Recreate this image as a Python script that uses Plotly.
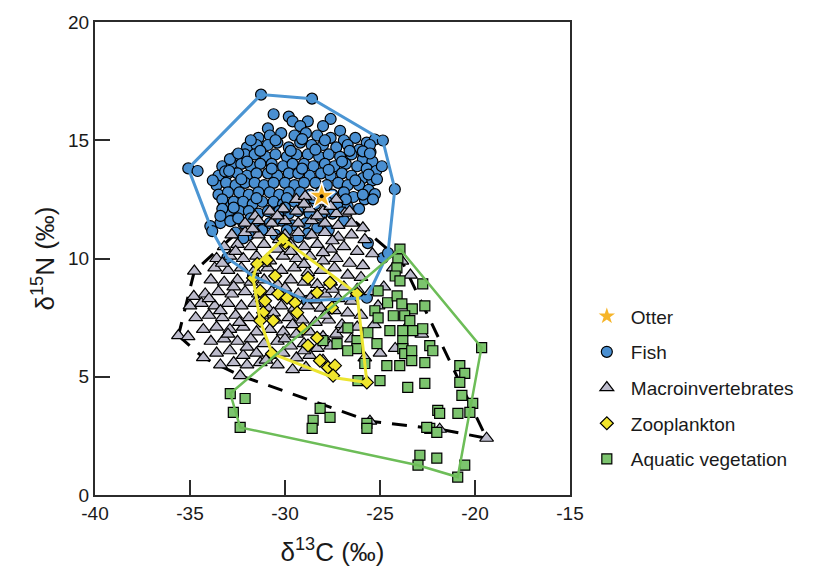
import plotly.graph_objects as go

# ---------------- data ----------------
fish_pts = [
    (-30.6, 16.1), (-29.8, 16.0), (-29.6, 15.8), (-28.8, 15.8), (-27.6, 15.9), (-28.0, 15.6), (-27.1, 15.4),
    (-30.9, 15.5), (-29.2, 15.6), (-31.26, 16.93), (-28.58, 16.76),
    (-31.4, 15.1), (-30.8, 15.2), (-30.2, 15.3), (-29.5, 15.2), (-28.9, 15.3), (-28.3, 15.2), (-27.6, 15.1),
    (-26.9, 15.0), (-26.3, 15.1), (-25.7, 14.9),
    (-32.0, 14.7), (-31.5, 14.8), (-30.9, 14.8), (-30.4, 14.9), (-29.8, 14.7), (-29.2, 14.9), (-28.6, 14.8),
    (-28.0, 14.8), (-27.3, 14.7), (-26.7, 14.8), (-26.1, 14.6), (-25.5, 14.5),
    (-32.6, 14.3), (-32.1, 14.4), (-31.6, 14.4), (-31.0, 14.3), (-30.5, 14.4), (-29.9, 14.3), (-29.4, 14.4),
    (-28.8, 14.4), (-28.2, 14.3), (-27.7, 14.4), (-27.1, 14.3), (-26.5, 14.4), (-25.9, 14.2), (-25.4, 14.1),
    (-33.3, 13.9), (-32.8, 14.0), (-32.3, 14.0), (-31.8, 13.9), (-31.3, 14.0), (-30.7, 14.0), (-30.1, 13.9),
    (-29.6, 14.0), (-29.0, 14.0), (-28.5, 13.9), (-27.9, 14.0), (-27.4, 13.9), (-26.8, 14.0), (-26.2, 13.9),
    (-25.7, 13.8), (-25.2, 13.7),
    (-33.5, 13.5), (-33.0, 13.6), (-32.5, 13.6), (-32.0, 13.5), (-31.5, 13.6), (-30.9, 13.6), (-30.4, 13.5),
    (-29.8, 13.6), (-29.3, 13.6), (-28.7, 13.5), (-28.1, 13.6), (-27.6, 13.5), (-27.0, 13.6), (-26.5, 13.5),
    (-25.9, 13.4), (-25.4, 13.3),
    (-33.6, 13.1), (-33.1, 13.2), (-32.6, 13.1), (-32.1, 13.2), (-31.6, 13.2), (-31.1, 13.1), (-30.6, 13.2),
    (-30.0, 13.2), (-29.5, 13.1), (-29.0, 13.2), (-28.4, 13.2), (-27.8, 13.1), (-27.2, 13.2), (-26.7, 13.1),
    (-26.1, 13.1), (-25.6, 12.9),
    (-33.5, 12.7), (-33.0, 12.8), (-32.4, 12.8), (-31.9, 12.7), (-31.4, 12.8), (-30.8, 12.8), (-30.3, 12.7),
    (-29.8, 12.8), (-29.2, 12.8), (-28.7, 12.7), (-28.1, 12.8), (-27.5, 12.7), (-26.9, 12.8), (-26.4, 12.6),
    (-25.8, 12.5),
    (-33.2, 12.3), (-32.7, 12.4), (-32.2, 12.4), (-31.7, 12.3), (-31.2, 12.4), (-30.6, 12.4), (-30.1, 12.3),
    (-29.5, 12.4), (-29.0, 12.4), (-28.4, 12.3), (-27.8, 12.4), (-27.2, 12.3), (-26.7, 12.2), (-26.1, 12.1),
    (-33.0, 11.9), (-32.4, 12.0), (-31.9, 12.0), (-31.4, 11.9), (-30.9, 12.0), (-30.3, 12.0), (-29.8, 11.9),
    (-29.3, 12.0), (-28.7, 11.9), (-28.1, 11.8), (-27.5, 11.9),
    (-33.4, 11.5), (-32.8, 11.6), (-32.2, 11.5), (-31.5, 11.6), (-30.8, 11.5), (-30.2, 11.6), (-29.6, 11.4),
    (-28.9, 11.5), (-28.3, 11.3),
    (-32.6, 11.1), (-31.9, 11.0), (-31.2, 11.2), (-30.5, 11.0), (-29.3, 10.9), (-27.7, 11.2),
    (-31.8, 15.0), (-30.5, 15.0), (-29.1, 15.05), (-27.9, 15.0), (-26.6, 14.55), (-32.9, 14.2), (-31.3, 14.55),
    (-29.7, 14.55), (-28.4, 14.6), (-27.0, 14.1), (-25.6, 13.55), (-33.8, 13.3), (-32.3, 13.35), (-30.7, 13.8),
    (-29.1, 13.8), (-27.7, 13.75), (-26.3, 13.3), (-33.3, 12.5), (-31.5, 12.55), (-29.9, 12.55), (-28.5, 12.55),
    (-26.8, 12.5), (-32.7, 12.15), (-30.0, 12.15), (-27.0, 11.95), (-31.8, 11.7), (-29.9, 11.2), (-28.8, 11.05),
    (-32.2, 10.85), (-26.9, 11.6), (-25.9, 12.7), (-24.9, 13.9),
    (-35.09, 13.81), (-34.6, 13.7), (-33.15, 13.68), (-32.94, 13.7), (-32.46, 14.44), (-31.99, 14.1),
    (-33.3, 12.1), (-33.4, 11.8), (-33.93, 11.37), (-33.83, 11.16), (-32.88, 11.58), (-32.46, 11.7),
    (-25.27, 15.03), (-24.85, 14.99), (-25.53, 14.8), (-25.9, 14.53), (-25.53, 14.44), (-25.16, 13.35),
    (-24.22, 12.93), (-25.27, 12.72), (-25.37, 12.5), (-25.64, 10.65), (-24.85, 10.02), (-24.58, 10.23),
    (-25.69, 8.34), (-28.84, 8.21), (-31.68, 9.26), (-33.04, 10.02),
]

macro_pts = [
    (-29.4, 12.5), (-28.7, 12.6), (-28.0, 12.4), (-27.3, 12.5), (-28.94, 12.63), (-26.84, 11.92), (-31.57, 11.79),
    (-30.8, 12.0), (-30.1, 12.1), (-29.4, 12.0), (-28.7, 12.1), (-28.0, 12.0), (-27.3, 11.9), (-26.6, 12.0),
    (-32.1, 11.5), (-31.4, 11.6), (-30.7, 11.5), (-30.0, 11.6), (-29.3, 11.5), (-28.6, 11.6), (-27.9, 11.5),
    (-27.2, 11.4), (-26.5, 11.5), (-25.9, 11.3),
    (-32.8, 11.0), (-32.1, 11.1), (-31.4, 11.0), (-30.7, 11.1), (-30.0, 11.0), (-29.3, 11.1), (-28.6, 11.0),
    (-27.9, 11.1), (-27.2, 10.9), (-26.5, 11.0), (-25.8, 10.8),
    (-33.2, 10.5), (-32.5, 10.6), (-31.8, 10.5), (-31.1, 10.6), (-30.4, 10.4), (-29.7, 10.6), (-29.0, 10.5),
    (-28.3, 10.6), (-27.6, 10.4), (-26.9, 10.5), (-26.2, 10.3), (-25.4, 10.2),
    (-33.6, 10.0), (-32.9, 10.1), (-32.2, 10.0), (-31.5, 10.1), (-30.8, 9.9), (-30.1, 10.1), (-29.4, 10.0),
    (-28.7, 10.1), (-28.0, 9.9), (-27.3, 10.0), (-26.6, 9.8), (-25.9, 9.7),
    (-34.77, 9.47), (-33.7, 9.6), (-33.0, 9.5), (-32.3, 9.6), (-31.6, 9.5), (-30.9, 9.6), (-30.2, 9.5),
    (-29.5, 9.6), (-28.8, 9.4), (-28.1, 9.5), (-27.4, 9.6), (-26.7, 9.3), (-26.0, 9.2),
    (-33.9, 9.1), (-33.2, 9.0), (-32.5, 9.1), (-31.8, 9.0), (-31.1, 9.1), (-30.4, 8.9), (-29.7, 9.1),
    (-29.0, 9.0), (-28.3, 8.9), (-27.6, 9.0), (-26.9, 8.8), (-26.2, 8.7), (-25.5, 8.6),
    (-34.8, 8.4), (-34.2, 8.5), (-33.5, 8.6), (-32.8, 8.5), (-32.1, 8.6), (-31.4, 8.5), (-30.7, 8.6),
    (-30.0, 8.4), (-29.3, 8.5), (-28.6, 8.4), (-27.9, 8.5), (-27.2, 8.3), (-26.5, 8.2), (-25.1, 8.0),
    (-35.0, 8.0), (-34.4, 8.1), (-33.7, 8.0), (-33.0, 8.1), (-32.3, 8.0), (-31.6, 8.1), (-30.9, 7.9),
    (-30.2, 8.0), (-29.5, 7.9), (-28.8, 8.0), (-28.1, 7.9), (-27.4, 7.8), (-26.7, 7.7), (-26.0, 7.6),
    (-34.7, 7.5), (-34.0, 7.6), (-33.3, 7.5), (-32.6, 7.6), (-31.9, 7.5), (-31.2, 7.6), (-30.5, 7.4),
    (-29.8, 7.5), (-29.1, 7.4), (-28.4, 7.3), (-27.7, 7.4), (-27.0, 7.2), (-26.2, 7.1), (-25.3, 7.2),
    (-34.3, 7.0), (-33.6, 7.1), (-32.9, 7.0), (-32.2, 7.1), (-31.5, 6.9), (-30.8, 7.0), (-30.1, 6.9),
    (-29.4, 6.8), (-28.7, 6.9), (-28.0, 6.7), (-27.3, 6.8), (-26.5, 6.6),
    (-35.61, 6.74), (-35.1, 6.7), (-33.9, 6.5), (-33.2, 6.6), (-32.5, 6.5), (-31.8, 6.6), (-31.1, 6.4),
    (-30.4, 6.5), (-29.7, 6.3), (-29.0, 6.4), (-28.3, 6.2), (-27.6, 6.3),
    (-33.6, 6.0), (-32.9, 6.1), (-32.2, 5.9), (-31.5, 6.0), (-30.8, 5.9), (-30.1, 6.0), (-29.4, 5.8),
    (-28.7, 5.9), (-28.0, 5.7),
    (-34.30, 5.81), (-33.4, 5.5), (-32.7, 5.6), (-32.0, 5.5), (-31.3, 5.6), (-30.4, 5.5), (-29.6, 5.3),
    (-28.9, 5.4), (-32.36, 5.05),
    (-29.0, 12.3), (-27.6, 12.2), (-30.4, 11.8), (-28.3, 11.8), (-31.7, 11.25), (-30.3, 10.8), (-27.5, 10.75),
    (-32.6, 10.3), (-29.7, 10.3), (-28.0, 10.25), (-33.3, 9.8), (-31.1, 9.8), (-29.0, 9.75), (-32.7, 8.8),
    (-30.0, 8.75), (-27.5, 8.7), (-34.0, 8.3), (-31.2, 8.3), (-28.4, 8.25), (-33.4, 7.8), (-30.6, 7.7),
    (-27.9, 7.6), (-32.4, 7.3), (-29.6, 7.2), (-26.9, 7.0), (-33.0, 6.8), (-30.0, 6.6), (-32.0, 6.25),
    (-29.0, 6.1), (-31.0, 5.7),
    (-24.3, 9.6), (-23.4, 9.3), (-24.8, 8.8), (-23.6, 7.1), (-22.8, 6.8), (-24.2, 6.2), (-25.0, 6.0),
    (-25.8, 5.8), (-23.85, 9.89),
    (-25.53, 3.12), (-21.86, 2.78), (-19.39, 2.40),
]

zoo_pts = [
    (-29.99, 10.65), (-30.94, 9.94), (-30.52, 9.26), (-31.31, 8.63), (-31.05, 8.21), (-30.62, 7.37),
    (-31.15, 7.71), (-30.36, 8.51), (-29.89, 8.34), (-29.47, 8.13), (-29.36, 7.71), (-28.79, 9.18),
    (-28.31, 8.55), (-27.63, 8.97), (-27.53, 7.92), (-29.05, 7.03), (-28.79, 6.32), (-28.31, 6.65),
    (-28.16, 5.68), (-27.74, 5.39), (-27.37, 5.47), (-27.47, 5.05), (-25.69, 4.76), (-30.10, 10.82),
    (-31.46, 9.77), (-31.68, 9.18), (-31.31, 7.37), (-30.68, 5.98), (-26.21, 8.51),
]

veg_pts = [
    (-23.95, 10.40), (-24.06, 9.98), (-24.11, 9.60), (-24.2, 9.26), (-23.95, 9.05), (-22.75, 8.93),
    (-22.64, 8.0), (-25.1, 8.63), (-24.6, 8.13), (-24.1, 8.42), (-23.85, 8.08), (-23.3, 7.87),
    (-25.27, 7.79), (-25.1, 7.49), (-24.3, 7.58), (-23.7, 7.58), (-23.43, 7.37), (-26.69, 7.07),
    (-25.64, 6.86), (-24.48, 6.95), (-23.8, 6.95), (-23.27, 6.95), (-22.75, 7.03), (-27.26, 6.4),
    (-26.21, 6.53), (-26.21, 6.19), (-25.16, 6.4), (-23.8, 6.53), (-23.8, 6.19), (-23.7, 5.98),
    (-23.33, 6.1), (-23.33, 5.68), (-22.64, 5.6), (-22.38, 6.32), (-22.22, 6.1), (-24.64, 5.47),
    (-23.96, 5.47), (-25.8, 5.56), (-26.16, 4.84), (-25.0, 4.84), (-23.54, 4.55), (-22.64, 4.72),
    (-20.8, 5.47), (-20.54, 5.14), (-20.8, 4.76), (-20.69, 4.21), (-20.12, 3.87), (-20.27, 3.49),
    (-20.9, 3.45), (-21.96, 3.58), (-21.86, 3.45), (-19.65, 6.23), (-22.38, 2.82), (-22.54, 2.86),
    (-22.01, 2.65), (-22.9, 1.68), (-23.0, 1.26), (-22.01, 1.56), (-20.91, 0.76), (-20.54, 1.26),
    (-25.69, 3.03), (-25.69, 2.82), (-28.15, 3.66), (-27.63, 3.28), (-28.52, 3.16), (-28.57, 2.82),
    (-32.88, 4.29), (-32.72, 3.49), (-32.36, 2.86), (-32.1, 4.08), (-28.0, 6.53), (-26.7, 6.1),
]

otter_x = [-28.07]
otter_y = [12.63]

fish_hull_x = [-35.09, -31.26, -28.58, -24.85, -24.22, -24.58, -25.69, -28.84, -31.68, -33.04, -33.83, -35.09]
fish_hull_y = [13.81, 16.93, 16.76, 14.99, 12.93, 10.23, 8.34, 8.21, 9.26, 10.02, 11.16, 13.81]

macro_hull_x = [-35.61, -34.30, -32.36, -25.53, -21.86, -19.39, -23.85, -26.84, -28.94, -31.57, -34.77, -35.61]
macro_hull_y = [6.74, 5.81, 5.05, 3.12, 2.78, 2.40, 9.89, 11.92, 12.63, 11.79, 9.47, 6.74]

zoo_hull_x = [-30.10, -26.21, -25.69, -27.47, -30.68, -31.31, -31.68, -31.46, -30.10]
zoo_hull_y = [10.82, 8.51, 4.76, 4.97, 5.98, 7.37, 9.18, 9.77, 10.82]

veg_hull_x = [-23.95, -19.66, -20.91, -23.0, -32.36, -32.88, -23.95]
veg_hull_y = [10.40, 6.24, 0.76, 1.26, 2.86, 4.29, 10.40]

x_ticks = [-40, -35, -30, -25, -20, -15]
y_ticks = [0, 5, 10, 15, 20]

# ---------------- styles ----------------
FISH_C = "#4a8fd1"
MACRO_C = "#bcbbcc"
ZOO_C = "#f2e62c"
VEG_C = "#7cc46e"
FISH_LINE = "#4b95d3"
ZOO_LINE = "#ece530"
VEG_LINE = "#6dbd58"
STAR_C = "#f6b52a"
FONT = "Arial, Liberation Sans, sans-serif"

def xs(p):
    return [a for a, b in p]

def ys(p):
    return [b for a, b in p]

fig = go.Figure()

fig.add_trace(go.Scatter(x=macro_hull_x, y=macro_hull_y, mode="lines", showlegend=False,
                         line=dict(color="black", width=3, dash="15px,11px"), hoverinfo="skip"))
fig.add_trace(go.Scatter(x=xs(fish_pts), y=ys(fish_pts), mode="markers", name="Fish", legendrank=2,
                         legendgroup="g2",
                         marker=dict(symbol="circle", size=11, color=FISH_C, line=dict(color="black", width=1.2))))
fig.add_trace(go.Scatter(x=xs(macro_pts), y=ys(macro_pts), mode="markers", name="Macroinvertebrates", legendrank=3,
                         legendgroup="g3",
                         marker=dict(symbol="triangle-up", size=12, color=MACRO_C, line=dict(color="black", width=1.2))))
fig.add_trace(go.Scatter(x=xs(veg_pts), y=ys(veg_pts), mode="markers", name="Aquatic vegetation", legendrank=5,
                         legendgroup="g5",
                         marker=dict(symbol="square", size=10, color=VEG_C, line=dict(color="black", width=1.2))))
fig.add_trace(go.Scatter(x=xs(zoo_pts), y=ys(zoo_pts), mode="markers", name="Zooplankton", legendrank=4,
                         legendgroup="g4",
                         marker=dict(symbol="diamond", size=10, color=ZOO_C, line=dict(color="black", width=1.2))))
fig.add_trace(go.Scatter(x=fish_hull_x, y=fish_hull_y, mode="lines", showlegend=False,
                         line=dict(color=FISH_LINE, width=3), hoverinfo="skip"))
fig.add_trace(go.Scatter(x=zoo_hull_x, y=zoo_hull_y, mode="lines", showlegend=False,
                         line=dict(color=ZOO_LINE, width=3), hoverinfo="skip"))
fig.add_trace(go.Scatter(x=veg_hull_x, y=veg_hull_y, mode="lines", showlegend=False,
                         line=dict(color=VEG_LINE, width=2.5), hoverinfo="skip"))
fig.add_trace(go.Scatter(x=otter_x, y=otter_y, mode="markers", name="Otter", legendrank=1, legendgroup="g1",
                         marker=dict(symbol="star", size=20, color=STAR_C, line=dict(color="white", width=1.5))))
fig.add_trace(go.Scatter(x=otter_x, y=otter_y, mode="markers", showlegend=False,
                         marker=dict(symbol="circle", size=4, color="black"), hoverinfo="skip"))

axis_common = dict(showgrid=False, zeroline=False, showline=True, linecolor="#2b2b2b", linewidth=2,
                   mirror=True, ticks="inside", ticklen=15, tickwidth=1.5, tickcolor="#2b2b2b",
                   tickfont=dict(family=FONT, size=19, color="#1a1a1a"))

fig.update_layout(
    width=839, height=576,
    margin=dict(l=95, r=269, t=20, b=81),
    paper_bgcolor="white", plot_bgcolor="white",
    font=dict(family=FONT, color="#1a1a1a"),
    showlegend=True,
    legend=dict(x=1.027, y=0.418, xanchor="left", yanchor="top", font=dict(family=FONT, size=19, color="#1a1a1a"),
                bgcolor="rgba(0,0,0,0)", itemsizing="trace", itemwidth=38, tracegroupgap=8),
    xaxis=dict(range=[-40, -15], tickvals=x_ticks, ticktext=[str(v) for v in x_ticks],
               title=dict(text="δ<sup>13</sup>C (‰)", font=dict(family=FONT, size=26), standoff=20), **axis_common),
    yaxis=dict(range=[0, 20], tickvals=y_ticks, ticktext=[str(v) for v in y_ticks],
               title=dict(text="δ<sup>15</sup>N (‰)", font=dict(family=FONT, size=26), standoff=6), **axis_common),
)

fig.write_html("out.html")
